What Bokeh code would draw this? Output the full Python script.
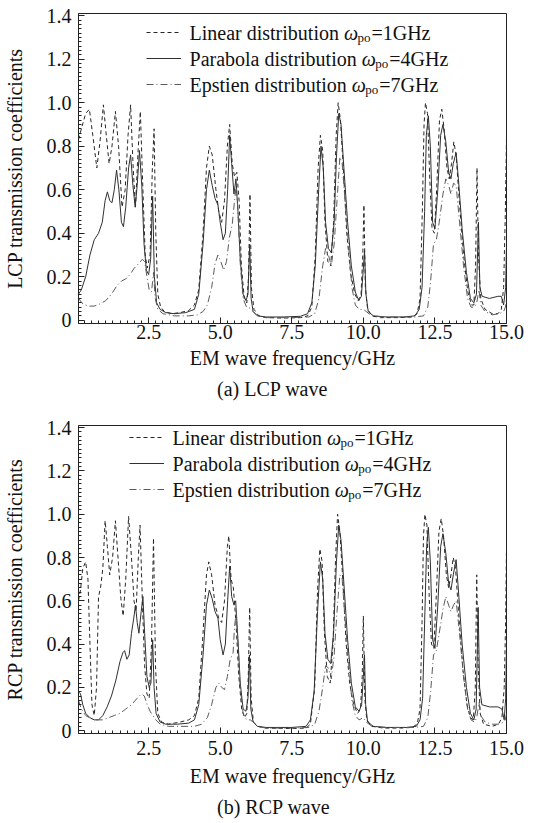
import numpy as np
from bokeh.plotting import figure
from bokeh.models import Range1d, FixedTicker, Legend, LegendItem, Label, Title, PrintfTickFormatter
from bokeh.layouts import column
from bokeh.embed import file_html
from bokeh.resources import INLINE

FONT = "Liberation Serif"

# ---------------- data ----------------
x_ticks = [2.5, 5.0, 7.5, 10.0, 12.5, 15.0]
x_tick_labels = ["2.5", "5.0", "7.5", "10.0", "12.5", "15.0"]
y_ticks = [0.0, 0.2, 0.4, 0.6, 0.8, 1.0, 1.2, 1.4]
y_tick_labels = ["0", "0.2", "0.4", "0.6", "0.8", "1.0", "1.2", "1.4"]

series_names = ["Linear distribution", "Parabola distribution", "Epstien distribution"]
series_symbol = ["\u03c9", "\u03c9", "\u03c9"]
series_sub = ["po", "po", "po"]
series_value = ["=1GHz", "=4GHz", "=7GHz"]

x_axis_title = "EM wave frequency/GHz"
lcp_y_title = "LCP transmission coefficients"
rcp_y_title = "RCP transmission coefficients"
lcp_caption = "(a) LCP wave"
rcp_caption = "(b) RCP wave"

# (a) LCP wave  -- (frequency GHz, transmission coefficient)
lcp_linear = [(0.05,0.83),(0.15,0.88),(0.3,0.95),(0.43,0.97),(0.55,0.85),(0.69,0.70),(0.8,0.82),(0.92,0.99),
    (1.02,0.85),(1.12,0.72),(1.22,0.80),(1.34,0.96),(1.45,0.80),(1.57,0.52),(1.68,0.60),(1.78,0.85),(1.87,0.99),
    (1.96,0.70),(2.04,0.52),(2.12,0.75),(2.21,0.96),(2.3,0.60),(2.38,0.30),(2.45,0.24),(2.55,0.30),(2.63,0.70),
    (2.69,0.88),(2.75,0.40),(2.82,0.12),(2.92,0.06),(3.05,0.04),(3.3,0.03),(3.6,0.035),(3.9,0.045),(4.1,0.07),
    (4.25,0.14),(4.4,0.40),(4.52,0.70),(4.62,0.80),(4.72,0.76),(4.85,0.60),(4.95,0.50),(5.05,0.45),(5.15,0.55),
    (5.25,0.80),(5.33,0.90),(5.42,0.72),(5.5,0.66),(5.58,0.68),(5.66,0.55),(5.74,0.25),(5.84,0.10),(5.93,0.08),
    (5.99,0.20),(6.04,0.58),(6.09,0.15),(6.18,0.05),(6.35,0.02),(6.6,0.012),(7.2,0.01),(7.8,0.012),(8.05,0.02),
    (8.2,0.06),(8.32,0.30),(8.42,0.70),(8.5,0.85),(8.58,0.78),(8.66,0.45),(8.76,0.27),(8.86,0.25),(8.96,0.45),
    (9.05,0.85),(9.12,1.0),(9.2,0.92),(9.3,0.70),(9.42,0.40),(9.55,0.22),(9.7,0.12),(9.82,0.09),(9.92,0.12),
    (9.98,0.30),(10.02,0.53),(10.07,0.15),(10.15,0.05),(10.3,0.02),(10.6,0.012),(11.2,0.012),(11.7,0.015),
    (11.88,0.03),(11.98,0.10),(12.06,0.50),(12.12,0.90),(12.17,1.0),(12.24,0.95),(12.32,0.65),(12.4,0.42),
    (12.48,0.40),(12.56,0.60),(12.66,0.92),(12.74,0.97),(12.82,0.88),(12.92,0.70),(13.0,0.65),(13.08,0.72),
    (13.16,0.82),(13.24,0.76),(13.35,0.55),(13.5,0.30),(13.65,0.13),(13.78,0.07),(13.86,0.07),(13.92,0.25),
    (13.97,0.70),(14.02,0.30),(14.1,0.10),(14.25,0.05),(14.5,0.03),(14.7,0.03),(14.82,0.05),(14.9,0.15),
    (14.96,0.50),(15.0,0.84)]

lcp_parabola = [(0.05,0.12),(0.15,0.14),(0.3,0.20),(0.45,0.30),(0.6,0.37),(0.75,0.40),(0.88,0.45),(0.98,0.55),
    (1.06,0.59),(1.14,0.55),(1.22,0.54),(1.3,0.60),(1.38,0.69),(1.46,0.60),(1.55,0.45),(1.62,0.43),(1.7,0.52),
    (1.8,0.70),(1.87,0.76),(1.95,0.62),(2.03,0.52),(2.1,0.62),(2.18,0.78),(2.26,0.62),(2.34,0.35),(2.42,0.23),
    (2.5,0.21),(2.57,0.28),(2.64,0.57),(2.7,0.20),(2.78,0.08),(2.9,0.05),(3.1,0.035),(3.4,0.03),(3.8,0.035),
    (4.1,0.05),(4.25,0.12),(4.4,0.35),(4.52,0.60),(4.62,0.69),(4.72,0.62),(4.82,0.56),(4.92,0.53),(5.0,0.45),
    (5.1,0.37),(5.18,0.40),(5.26,0.60),(5.33,0.85),(5.4,0.72),(5.48,0.58),(5.55,0.65),(5.62,0.50),(5.7,0.28),
    (5.8,0.12),(5.9,0.09),(5.97,0.12),(6.03,0.35),(6.08,0.10),(6.15,0.04),(6.3,0.02),(6.6,0.015),(7.2,0.015),
    (7.8,0.018),(8.05,0.03),(8.2,0.08),(8.32,0.25),(8.44,0.60),(8.52,0.80),(8.6,0.70),(8.68,0.45),(8.78,0.33),
    (8.88,0.31),(8.98,0.45),(9.06,0.75),(9.14,0.95),(9.22,0.90),(9.32,0.70),(9.45,0.45),(9.58,0.25),(9.72,0.13),
    (9.84,0.09),(9.93,0.11),(9.99,0.22),(10.04,0.32),(10.09,0.12),(10.17,0.04),(10.35,0.02),(10.8,0.015),
    (11.4,0.015),(11.8,0.02),(11.95,0.05),(12.05,0.15),(12.14,0.50),(12.2,0.85),(12.27,0.94),(12.34,0.80),
    (12.42,0.45),(12.5,0.42),(12.6,0.60),(12.7,0.85),(12.78,0.90),(12.88,0.82),(12.98,0.68),(13.06,0.65),
    (13.14,0.72),(13.24,0.77),(13.32,0.65),(13.45,0.42),(13.6,0.22),(13.74,0.10),(13.86,0.08),(13.95,0.12),
    (14.02,0.45),(14.07,0.15),(14.15,0.11),(14.4,0.10),(14.7,0.11),(14.82,0.11),(14.9,0.07),(14.97,0.15),(15.0,0.35)]

lcp_epstein = [(0.05,0.10),(0.2,0.075),(0.4,0.065),(0.6,0.065),(0.8,0.075),(1.0,0.09),(1.2,0.12),(1.4,0.16),
    (1.55,0.18),(1.7,0.19),(1.85,0.21),(2.0,0.24),(2.15,0.26),(2.28,0.28),(2.36,0.27),(2.44,0.20),(2.52,0.14),
    (2.6,0.13),(2.67,0.22),(2.73,0.10),(2.82,0.05),(3.0,0.03),(3.4,0.02),(3.9,0.02),(4.2,0.025),(4.4,0.04),
    (4.55,0.07),(4.7,0.15),(4.82,0.26),(4.92,0.30),(5.02,0.27),(5.12,0.23),(5.22,0.27),(5.32,0.38),(5.42,0.44),
    (5.5,0.55),(5.56,0.62),(5.62,0.50),(5.7,0.26),(5.8,0.10),(5.92,0.06),(6.05,0.055),(6.15,0.04),(6.3,0.02),
    (6.6,0.012),(7.5,0.012),(8.1,0.015),(8.3,0.03),(8.45,0.10),(8.58,0.25),(8.68,0.33),(8.78,0.30),(8.88,0.25),
    (8.98,0.35),(9.08,0.55),(9.18,0.75),(9.26,0.72),(9.36,0.55),(9.48,0.35),(9.6,0.15),(9.72,0.07),(9.85,0.05),
    (10.0,0.05),(10.1,0.04),(10.3,0.02),(10.8,0.015),(11.8,0.015),(12.1,0.02),(12.25,0.06),(12.35,0.18),
    (12.45,0.35),(12.55,0.37),(12.65,0.45),(12.78,0.58),(12.88,0.65),(12.98,0.62),(13.06,0.58),(13.15,0.63),
    (13.24,0.62),(13.36,0.45),(13.5,0.25),(13.64,0.10),(13.76,0.06),(13.88,0.06),(13.96,0.08),(14.04,0.14),
    (14.1,0.07),(14.25,0.04),(14.5,0.025),(14.75,0.03),(14.9,0.04),(14.96,0.06),(15.0,0.10)]

# (b) RCP wave
rcp_linear = [(0.05,0.60),(0.12,0.65),(0.2,0.75),(0.3,0.78),(0.38,0.70),(0.45,0.40),(0.52,0.12),(0.6,0.07),
    (0.68,0.20),(0.75,0.62),(0.82,0.66),(0.9,0.75),(0.98,0.97),(1.06,0.85),(1.14,0.72),(1.24,0.80),(1.34,0.97),
    (1.44,0.78),(1.53,0.61),(1.61,0.53),(1.7,0.70),(1.8,0.99),(1.9,0.80),(1.99,0.60),(2.06,0.55),(2.14,0.80),
    (2.2,0.95),(2.28,0.60),(2.36,0.30),(2.44,0.17),(2.52,0.15),(2.6,0.40),(2.67,0.89),(2.74,0.30),(2.82,0.08),
    (2.95,0.04),(3.2,0.03),(3.6,0.04),(3.9,0.05),(4.1,0.07),(4.25,0.15),(4.4,0.45),(4.52,0.72),(4.6,0.78),
    (4.7,0.72),(4.82,0.58),(4.95,0.52),(5.05,0.50),(5.15,0.60),(5.25,0.85),(5.3,0.90),(5.38,0.70),(5.46,0.66),
    (5.55,0.50),(5.65,0.25),(5.75,0.10),(5.85,0.06),(5.93,0.08),(5.98,0.25),(6.03,0.57),(6.08,0.15),(6.16,0.04),
    (6.3,0.02),(6.6,0.012),(7.5,0.01),(8.0,0.012),(8.15,0.03),(8.3,0.20),(8.4,0.65),(8.48,0.84),(8.56,0.78),
    (8.64,0.45),(8.74,0.25),(8.84,0.22),(8.94,0.40),(9.03,0.80),(9.1,1.0),(9.18,0.92),(9.28,0.70),(9.4,0.40),
    (9.52,0.22),(9.66,0.12),(9.8,0.08),(9.9,0.10),(9.96,0.25),(10.0,0.53),(10.05,0.15),(10.12,0.05),(10.3,0.02),
    (10.7,0.012),(11.3,0.012),(11.7,0.015),(11.88,0.03),(11.98,0.10),(12.05,0.50),(12.1,0.90),(12.15,1.0),
    (12.22,0.95),(12.3,0.62),(12.38,0.40),(12.46,0.38),(12.54,0.60),(12.64,0.92),(12.72,0.98),(12.8,0.90),
    (12.9,0.72),(12.98,0.66),(13.06,0.72),(13.14,0.80),(13.22,0.75),(13.34,0.52),(13.48,0.28),(13.62,0.12),
    (13.74,0.06),(13.84,0.05),(13.91,0.20),(13.96,0.72),(14.01,0.30),(14.08,0.08),(14.2,0.03),(14.5,0.02),
    (14.72,0.03),(14.84,0.06),(14.92,0.20),(14.97,0.50),(15.0,0.85)]

rcp_parabola = [(0.05,0.18),(0.12,0.17),(0.2,0.12),(0.3,0.08),(0.45,0.06),(0.6,0.05),(0.75,0.05),(0.9,0.07),
    (1.05,0.11),(1.2,0.16),(1.35,0.23),(1.5,0.32),(1.6,0.36),(1.66,0.37),(1.74,0.33),(1.82,0.35),(1.9,0.45),
    (1.98,0.52),(2.04,0.58),(2.1,0.50),(2.16,0.45),(2.24,0.55),(2.3,0.62),(2.36,0.45),(2.44,0.25),(2.52,0.20),
    (2.58,0.22),(2.64,0.42),(2.69,0.20),(2.76,0.08),(2.9,0.04),(3.1,0.03),(3.5,0.03),(3.9,0.035),(4.1,0.05),
    (4.25,0.12),(4.4,0.35),(4.52,0.58),(4.62,0.65),(4.72,0.61),(4.82,0.55),(4.92,0.52),(5.0,0.42),(5.1,0.35),
    (5.18,0.40),(5.26,0.60),(5.33,0.76),(5.4,0.62),(5.48,0.58),(5.54,0.60),(5.62,0.42),(5.7,0.22),(5.8,0.10),
    (5.9,0.09),(5.97,0.15),(6.02,0.35),(6.07,0.10),(6.15,0.04),(6.3,0.02),(6.6,0.015),(7.5,0.015),(8.0,0.02),
    (8.15,0.05),(8.28,0.18),(8.4,0.55),(8.5,0.78),(8.58,0.70),(8.66,0.45),(8.76,0.33),(8.86,0.31),(8.96,0.45),
    (9.06,0.78),(9.14,0.95),(9.22,0.88),(9.32,0.68),(9.45,0.42),(9.58,0.22),(9.72,0.11),(9.85,0.09),(9.94,0.12),
    (10.0,0.25),(10.04,0.35),(10.08,0.12),(10.15,0.04),(10.35,0.02),(10.8,0.015),(11.5,0.015),(11.85,0.02),
    (11.98,0.05),(12.07,0.15),(12.15,0.55),(12.21,0.85),(12.27,0.94),(12.34,0.78),(12.42,0.42),(12.5,0.38),
    (12.6,0.58),(12.7,0.85),(12.78,0.91),(12.88,0.82),(12.98,0.68),(13.06,0.65),(13.14,0.72),(13.24,0.79),
    (13.32,0.65),(13.45,0.40),(13.6,0.20),(13.74,0.08),(13.86,0.05),(13.94,0.10),(14.01,0.57),(14.06,0.20),
    (14.14,0.12),(14.4,0.11),(14.7,0.11),(14.84,0.10),(14.92,0.05),(14.97,0.15),(15.0,0.40)]

rcp_epstein = [(0.05,0.14),(0.15,0.10),(0.3,0.07),(0.5,0.055),(0.7,0.05),(0.9,0.05),(1.1,0.06),(1.3,0.07),
    (1.5,0.08),(1.7,0.10),(1.9,0.12),(2.1,0.15),(2.25,0.17),(2.35,0.16),(2.45,0.12),(2.55,0.09),(2.65,0.07),
    (2.75,0.05),(2.9,0.03),(3.2,0.02),(3.7,0.02),(4.1,0.02),(4.35,0.03),(4.55,0.06),(4.7,0.12),(4.85,0.20),
    (4.95,0.22),(5.05,0.20),(5.15,0.19),(5.25,0.25),(5.35,0.33),(5.45,0.36),(5.5,0.48),(5.56,0.55),(5.62,0.40),
    (5.7,0.20),(5.8,0.08),(5.92,0.05),(6.05,0.05),(6.15,0.04),(6.3,0.02),(6.6,0.012),(7.5,0.012),(8.1,0.015),
    (8.3,0.03),(8.45,0.09),(8.58,0.20),(8.68,0.30),(8.78,0.29),(8.88,0.24),(8.98,0.35),(9.08,0.55),(9.18,0.72),
    (9.26,0.70),(9.36,0.52),(9.48,0.32),(9.6,0.14),(9.72,0.07),(9.85,0.05),(10.0,0.06),(10.1,0.04),(10.3,0.02),
    (10.8,0.015),(11.8,0.015),(12.1,0.02),(12.25,0.06),(12.35,0.18),(12.45,0.35),(12.55,0.37),(12.65,0.45),
    (12.78,0.56),(12.88,0.62),(12.98,0.58),(13.06,0.55),(13.15,0.58),(13.24,0.60),(13.36,0.45),(13.5,0.25),
    (13.64,0.10),(13.76,0.05),(13.88,0.04),(13.96,0.06),(14.04,0.13),(14.1,0.07),(14.25,0.04),(14.5,0.03),
    (14.75,0.03),(14.9,0.04),(14.96,0.05),(15.0,0.08)]

# ---------------- styling / layout ----------------
LINE_STYLES = [("#262626", "4 3"), ("#303030", "solid"), ("#5a5a5a", "7 3 1 3")]
LEGEND_FONT_PX = 20
# widths (em units of Liberation Serif) of each legend name followed by a space
PREFIX_EM = [7.722, 8.611, 8.112]
SPACE_EM = 0.25
X_START, X_END = 0.05, 15.0
FIG_W = 542
FRAME_LEFT, FRAME_RIGHT = 77, 506
CAPTION_W = 111


def make_panel(curves, y_title, caption, height, top, frame_h, y_start,
               leg_x, leg_row0, tick_standoff, title_standoff, cap_standoff):
    p = figure(width=FIG_W, height=height, output_backend="svg", toolbar_location=None,
               x_range=Range1d(X_START, X_END), y_range=Range1d(y_start, 1.41),
               min_border_left=FRAME_LEFT, min_border_right=FIG_W - FRAME_RIGHT, min_border_top=top,
               min_border_bottom=height - top - frame_h)
    p.xgrid.visible = False
    p.ygrid.visible = False
    p.outline_line_color = "#222222"
    p.outline_line_width = 1
    p.background_fill_color = "white"
    p.border_fill_color = "white"

    for ax in (p.xaxis[0], p.yaxis[0]):
        ax.major_tick_in = 6
        ax.major_tick_out = 0
        ax.minor_tick_in = 3
        ax.minor_tick_out = 0
        ax.axis_line_color = "#222222"
        ax.major_tick_line_color = "#222222"
        ax.minor_tick_line_color = "#222222"
        ax.major_label_text_font = FONT
        ax.major_label_text_font_size = "20px"
        ax.major_label_text_color = "#111111"
        ax.axis_label_text_font = FONT
        ax.axis_label_text_font_size = "20px"
        ax.axis_label_text_font_style = "normal"
        ax.axis_label_text_color = "#111111"

    xa = p.xaxis[0]
    xa.ticker = FixedTicker(ticks=x_ticks, minor_ticks=list(np.arange(0.25, 15.0, 0.25)))
    xa.formatter = PrintfTickFormatter(format="%.1f")
    xa.major_label_overrides = {t: s for t, s in zip(x_ticks, x_tick_labels)}
    xa.major_label_standoff = tick_standoff
    xa.axis_label = x_axis_title
    xa.axis_label_standoff = title_standoff

    ya = p.yaxis[0]
    ya.ticker = FixedTicker(ticks=y_ticks, minor_ticks=list(np.round(np.arange(0.02, 1.41, 0.02), 2)))
    ya.formatter = PrintfTickFormatter(format="%.1f")
    ya.major_label_overrides = {t: s for t, s in zip(y_ticks, y_tick_labels)}
    ya.major_label_standoff = 7
    ya.axis_label = y_title
    ya.axis_label_standoff = 18

    renderers = []
    for data, (color, dash) in zip(curves, LINE_STYLES):
        xs = [d[0] for d in data]
        ys = [d[1] for d in data]
        r = p.line(xs, ys, line_color=color, line_width=1, line_dash=dash)
        renderers.append(r)

    # legend: line samples from Bokeh's Legend, texts as labels
    pitch = 26
    glyph_h = 24
    leg_h = 3 * glyph_h + 2 * (pitch - glyph_h)
    leg_top = leg_row0 - glyph_h / 2
    legend = Legend(items=[LegendItem(label=" ", renderers=[r]) for r in renderers],
                    location=(leg_x, frame_h - leg_top - leg_h), padding=0, margin=0,
                    spacing=pitch - glyph_h, glyph_width=35, glyph_height=glyph_h, label_height=glyph_h,
                    label_standoff=8, label_text_font=FONT, label_text_font_size="19px",
                    label_text_color="#111111", border_line_alpha=0, background_fill_alpha=0)
    p.add_layout(legend)

    fs = LEGEND_FONT_PX
    text_dx = leg_x + 35 + 8
    for i in range(3):
        dy = -(leg_row0 + i * pitch)
        wx = text_dx + PREFIX_EM[i] * fs
        p.add_layout(Label(x=X_START, y=1.41, x_offset=wx - SPACE_EM * fs, y_offset=dy, text=series_names[i],
                           text_font=FONT, text_font_size=f"{fs}px", text_align="right",
                           text_baseline="middle", text_color="#111111"))
        p.add_layout(Label(x=X_START, y=1.41, x_offset=wx, y_offset=dy, text=series_symbol[i],
                           text_font=FONT, text_font_style="italic", text_font_size=f"{fs}px",
                           text_baseline="middle", text_color="#111111"))
        p.add_layout(Label(x=X_START, y=1.41, x_offset=wx + 13.5, y_offset=dy - 5, text=series_sub[i],
                           text_font=FONT, text_font_size="13px",
                           text_baseline="middle", text_color="#111111"))
        p.add_layout(Label(x=X_START, y=1.41, x_offset=wx + 27.5, y_offset=dy, text=series_value[i],
                           text_font=FONT, text_font_size=f"{fs}px",
                           text_baseline="middle", text_color="#111111"))

    # caption centred on the page, below the axis title
    p.add_layout(Title(text=caption, align="left", offset=FIG_W / 2 - CAPTION_W / 2 - FRAME_LEFT,
                       standoff=cap_standoff, text_font=FONT, text_font_size="20px",
                       text_font_style="normal", text_color="#111111"), "below")
    return p


p1 = make_panel([lcp_linear, lcp_parabola, lcp_epstein], lcp_y_title, lcp_caption,
                height=410, top=13, frame_h=310, y_start=-0.015,
                leg_x=68, leg_row0=19, tick_standoff=1, title_standoff=5, cap_standoff=9)
p2 = make_panel([rcp_linear, rcp_parabola, rcp_epstein], rcp_y_title, rcp_caption,
                height=412, top=15, frame_h=308, y_start=-0.013,
                leg_x=51, leg_row0=12, tick_standoff=7, title_standoff=7, cap_standoff=9)

layout = column(p1, p2, spacing=0)
open("out.html", "w").write(file_html(layout, INLINE))
